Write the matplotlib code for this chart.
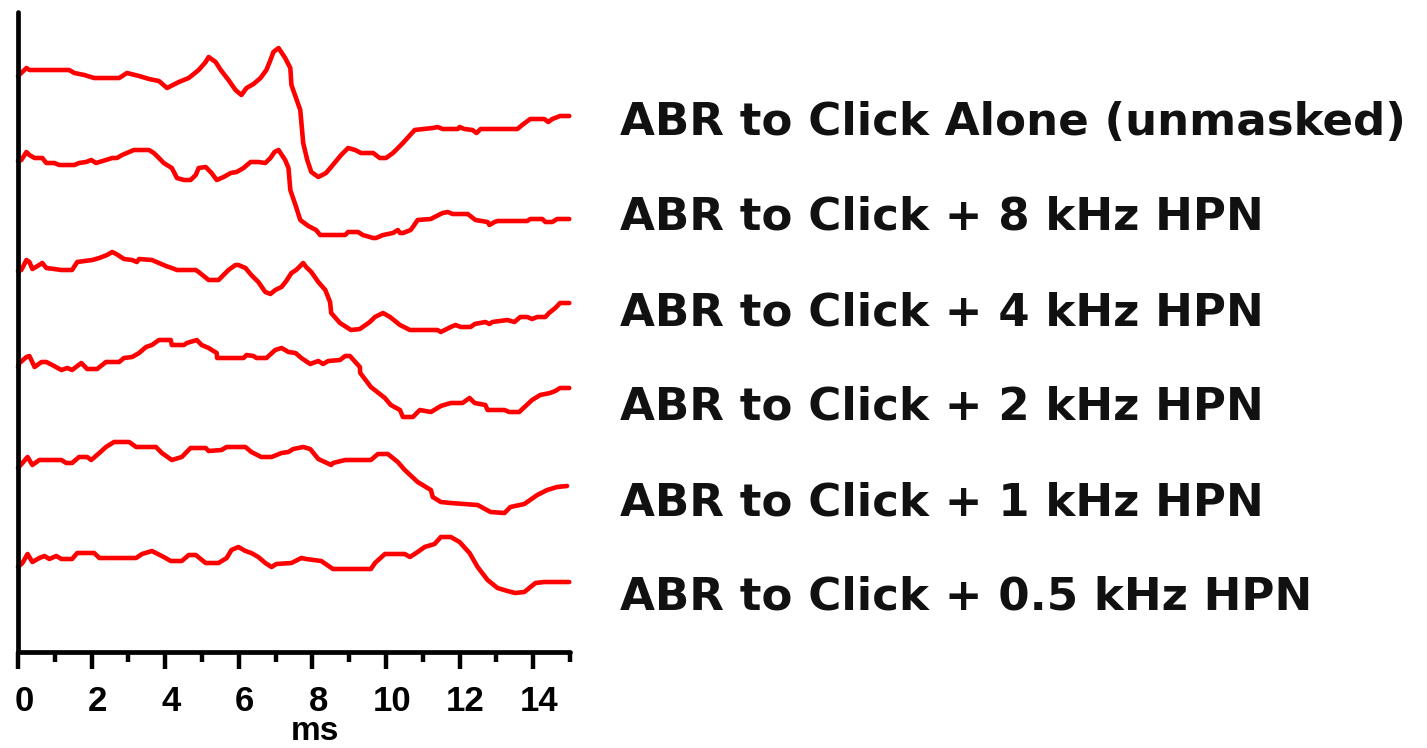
import matplotlib
matplotlib.use("Agg")
import matplotlib.pyplot as plt
import matplotlib.transforms as mtransforms

# ---------------- data (time in ms, amplitude in arbitrary units) ----------------
labels = [
    "ABR to Click Alone (unmasked)",
    "ABR to Click + 8 kHz HPN",
    "ABR to Click + 4 kHz HPN",
    "ABR to Click + 2 kHz HPN",
    "ABR to Click + 1 kHz HPN",
    "ABR to Click + 0.5 kHz HPN",
]
offsets = [0.0, -8.5, -19.5, -29.1, -39.2, -49.1]

t_alone = [0, 0.23, 0.31, 1.39, 1.53, 1.80, 2.07, 2.75, 2.96, 3.29, 3.56, 3.83, 4.05, 4.37, 4.64,
           4.91, 5.10, 5.18, 5.37, 5.51, 5.72, 5.91, 6.07, 6.21, 6.40, 6.59, 6.75, 6.86, 6.94, 7.08,
           7.26, 7.40, 7.43, 7.67, 7.75, 7.86, 7.97, 8.16, 8.37, 8.51, 8.78, 8.97, 9.16, 9.32, 9.65,
           9.83, 10.00, 10.19, 10.46, 10.78, 11.27, 11.40, 11.54, 11.95, 12.00, 12.13, 12.35, 12.46,
           12.57, 13.57, 13.70, 13.92, 14.30, 14.41, 14.52, 14.73, 14.98]
a_alone = [0, 0.8, 0.6, 0.6, 0.3, 0.1, -0.2, -0.2, 0.3, 0.0, -0.3, -0.5, -1.2, -0.6, -0.2,
           0.6, 1.4, 1.9, 1.4, 0.6, -0.4, -1.4, -1.9, -1.2, -0.8, -0.2, 0.6, 1.6, 2.4, 2.8,
           1.8, 0.8, -0.9, -3.4, -6.7, -8.4, -9.6, -10.1, -9.7, -9.1, -7.9, -7.2, -7.4, -7.7, -7.7,
           -8.2, -8.2, -7.7, -6.7, -5.4, -5.2, -5.1, -5.3, -5.3, -5.1, -5.3, -5.4, -5.7,
           -5.3, -5.3, -4.9, -4.3, -4.3, -4.6, -4.3, -4.0, -4.0]

t_8k = [0, 0.09, 0.23, 0.31, 0.45, 0.66, 0.77, 0.99, 1.12, 1.53, 1.66, 1.85, 1.99, 2.12, 2.39,
        2.56, 2.69, 2.83, 3.02, 3.15, 3.56, 3.69, 3.83, 3.96, 4.18, 4.32, 4.51, 4.69, 4.83, 4.91,
        5.10, 5.26, 5.40, 5.59, 5.78, 5.94, 6.13, 6.32, 6.53, 6.72, 6.86, 6.97, 7.08, 7.26, 7.35,
        7.40, 7.54, 7.67, 7.89, 8.10, 8.21, 8.89, 8.97, 9.24, 9.37, 9.65, 9.73, 9.92, 10.19, 10.32,
        10.38, 10.46, 10.67, 10.73, 10.86, 11.22, 11.32, 11.54, 11.68, 11.81, 12.22, 12.43, 12.76,
        12.81, 12.95, 13.03, 13.84, 13.92, 14.25, 14.33, 14.52, 14.65, 14.98]
a_8k = [0, 0.1, 0.9, 0.6, 0.3, 0.3, -0.2, -0.2, -0.4, -0.4, -0.2, -0.1, 0.1, -0.2, 0.1,
        0.3, 0.3, 0.6, 0.9, 1.1, 1.1, 0.8, 0.3, -0.2, -0.7, -1.7, -1.9, -1.9, -1.4, -0.7,
        -0.6, -1.2, -1.9, -1.6, -1.2, -1.1, -0.7, -0.1, -0.1, -0.2, 0.3, 0.9, 1.1, 0.1, -0.7,
        -2.9, -4.4, -5.9, -6.5, -6.9, -7.4, -7.4, -7.1, -7.1, -7.4, -7.7, -7.7, -7.4, -7.2, -6.9,
        -7.2, -7.2, -6.9, -6.6, -5.9, -5.8, -5.6, -5.2, -5.1, -5.3, -5.3, -5.9, -6.1,
        -6.4, -6.1, -6.0, -6.0, -5.8, -5.8, -6.1, -6.1, -5.8, -5.8]

t_4k = [0, 0.09, 0.23, 0.31, 0.39, 0.53, 0.66, 0.77, 0.99, 1.18, 1.47, 1.61, 2.02, 2.21, 2.42,
        2.56, 2.67, 2.88, 3.10, 3.23, 3.29, 3.64, 3.83, 4.02, 4.18, 4.32, 4.83, 4.91, 5.18, 5.45,
        5.72, 5.91, 5.99, 6.18, 6.34, 6.53, 6.72, 6.86, 6.99, 7.16, 7.29, 7.43, 7.56, 7.75, 7.83,
        7.97, 8.16, 8.35, 8.48, 8.51, 8.75, 8.92, 9.05, 9.29, 9.56, 9.70, 9.92, 10.11, 10.38, 10.65,
        11.40, 11.49, 11.76, 11.89, 12.03, 12.30, 12.41, 12.70, 12.81, 12.89, 13.30, 13.49, 13.65,
        13.84, 13.97, 14.11, 14.33, 14.43, 14.60, 14.73, 14.98]
a_4k = [0, 0.1, 1.1, 0.9, 0.2, 0.5, 0.8, 0.3, 0.2, 0.1, 0.1, 0.9, 1.1, 1.3, 1.6,
        1.9, 1.7, 1.2, 1.1, 0.9, 1.2, 1.1, 0.8, 0.5, 0.3, 0.1, 0.1, -0.1, -0.9, -0.9,
        0.1, 0.6, 0.6, 0.3, -0.4, -1.1, -2.1, -2.3, -1.9, -1.6, -1.0, -0.2, 0.1, 0.8, 0.4,
        -0.1, -1.1, -1.9, -3.1, -4.2, -5.2, -5.6, -5.9, -5.8, -5.1, -4.6, -4.2, -4.6, -5.4, -5.9,
        -5.9, -6.1, -5.6, -5.4, -5.6, -5.6, -5.3, -5.1, -5.3, -5.1, -4.9, -5.1, -4.6,
        -4.6, -4.8, -4.6, -4.6, -4.2, -3.7, -3.2, -3.2]

t_2k = [0, 0.04, 0.23, 0.31, 0.45, 0.64, 0.77, 0.93, 1.18, 1.34, 1.47, 1.72, 1.88, 2.15, 2.39,
        2.75, 2.88, 3.10, 3.29, 3.48, 3.64, 3.83, 4.15, 4.18, 4.51, 4.59, 4.86, 4.99, 5.18, 5.40,
        5.41, 6.13, 6.21, 6.40, 6.48, 6.75, 6.99, 7.16, 7.35, 7.54, 7.70, 7.94, 8.16, 8.29, 8.43,
        8.75, 8.89, 9.02, 9.29, 9.30, 9.59, 9.97, 10.13, 10.38, 10.46, 10.73, 10.92, 11.22, 11.49,
        11.76, 12.08, 12.27, 12.41, 12.70, 12.76, 13.22, 13.35, 13.62, 13.97, 14.19, 14.46, 14.60,
        14.73, 14.98]
a_2k = [0, 0.4, 1.0, 1.1, 0.0, 0.5, 0.5, 0.2, -0.3, -0.1, -0.3, 0.4, -0.2, -0.2, 0.5,
        0.5, 0.9, 1.0, 1.4, 2.0, 2.2, 2.7, 2.7, 2.2, 2.2, 2.4, 2.7, 2.2, 1.9, 1.4,
        0.9, 0.9, 1.2, 1.1, 0.9, 0.9, 1.7, 1.9, 1.5, 1.4, 0.9, 0.3, 0.6, 0.3, 0.6,
        0.7, 1.1, 1.1, 0.0, -0.6, -2.0, -3.1, -3.8, -4.3, -5.0, -5.0, -4.3, -4.5, -3.9,
        -3.6, -3.6, -3.1, -3.6, -3.8, -4.3, -4.3, -4.5, -4.5, -3.3, -2.8, -2.6, -2.4,
        -2.1, -2.1]

t_1k = [0, 0.12, 0.26, 0.39, 0.58, 1.18, 1.31, 1.47, 1.66, 1.88, 1.99, 2.21, 2.39, 2.61, 3.02,
        3.21, 3.75, 3.91, 4.18, 4.45, 4.69, 5.10, 5.18, 5.53, 5.67, 6.18, 6.34, 6.61, 6.89, 7.16,
        7.35, 7.48, 7.75, 7.94, 8.16, 8.51, 8.56, 8.89, 9.59, 9.78, 10.05, 10.32, 10.51, 10.86,
        11.22, 11.27, 11.49, 11.76, 12.49, 12.84, 13.22, 13.38, 13.76, 14.11, 14.38, 14.65, 14.92]
a_1k = [0, 0.5, 1.1, 0.3, 0.8, 0.8, 0.5, 0.5, 1.1, 1.1, 0.8, 1.5, 2.1, 2.6, 2.6,
        2.1, 2.1, 1.5, 0.8, 1.1, 2.0, 2.0, 1.7, 1.8, 2.1, 2.1, 1.6, 1.1, 1.1, 1.5,
        1.6, 1.9, 2.1, 1.9, 0.9, 0.3, 0.5, 0.8, 0.8, 1.4, 1.4, 0.6, -0.2, -1.4,
        -2.2, -2.9, -3.4, -3.5, -3.7, -4.4, -4.5, -3.9, -3.6, -2.7, -2.2, -1.9, -1.8]

t_05k = [0, 0.12, 0.26, 0.39, 0.58, 0.72, 0.85, 1.04, 1.18, 1.47, 1.61, 2.07, 2.21, 3.21, 3.37,
         3.64, 3.96, 4.15, 4.45, 4.64, 4.83, 5.10, 5.45, 5.67, 5.80, 5.99, 6.18, 6.34, 6.53, 6.72,
         6.89, 7.02, 7.43, 7.70, 7.83, 8.24, 8.56, 9.59, 9.70, 9.97, 10.51, 10.65, 10.86, 11.05,
         11.32, 11.49, 11.76, 12.00, 12.27, 12.49, 12.76, 13.03, 13.30, 13.51, 13.76, 14.06, 14.30,
         14.98]
a_05k = [0, 0.4, 1.3, 0.5, 0.9, 1.1, 0.8, 1.1, 0.8, 0.8, 1.4, 1.4, 0.9, 0.9, 1.3,
         1.6, 1.0, 0.6, 0.6, 1.2, 1.2, 0.4, 0.4, 0.9, 1.7, 2.0, 1.6, 1.4, 1.0, 0.4,
         0.0, 0.3, 0.4, 0.9, 0.8, 0.6, -0.2, -0.2, 0.4, 1.3, 1.3, 1.0, 1.5, 2.0,
         2.3, 3.0, 3.0, 2.5, 1.4, 0.0, -1.3, -2.1, -2.4, -2.6, -2.5, -1.6, -1.5,
         -1.5]

times = [t_alone, t_8k, t_4k, t_2k, t_1k, t_05k]
amps = [a_alone, a_8k, a_4k, a_2k, a_1k, a_05k]

xticks_major = [0, 2, 4, 6, 8, 10, 12, 14]
xticks_minor = [1, 3, 5, 7, 9, 11, 13, 15]
xlabel = "ms"

# ---------------- figure ----------------
W, H, DPI = 1427, 748, 100
fig = plt.figure(figsize=(W / DPI, H / DPI), dpi=DPI)
ax = fig.add_axes([18 / W, 1 - 652 / H, (570 - 18) / W, (652 - 12) / H])

for t, a, off in zip(times, amps, offsets):
    ax.plot(t, [v + off for v in a], color="#ff0000", lw=3.3,
            solid_joinstyle="round", solid_capstyle="round", clip_on=False)

ax.set_xlim(0, 15)
ax.set_ylim(-57.6, 6.4)

for s in ["top", "right"]:
    ax.spines[s].set_visible(False)
for s in ["left", "bottom"]:
    ax.spines[s].set_linewidth(3.4)
    ax.spines[s].set_capstyle("round")

ax.set_yticks([])
ax.set_xticks(xticks_major)
ax.set_xticks(xticks_minor, minor=True)
ax.tick_params(axis="x", which="major", length=12, width=3.2, pad=12,
               labelsize=25)
ax.tick_params(axis="x", which="minor", length=7, width=3.2)
for lab in ax.get_xticklabels():
    lab.set_fontweight("bold")
    lab.set_fontfamily("Liberation Sans")
    lab.set_transform(lab.get_transform() +
                      mtransforms.ScaledTranslation(6 / DPI, 0, fig.dpi_scale_trans))

fig.text(315 / W, 1 - 740 / H, xlabel, ha="center", va="baseline",
         fontsize=24, fontweight="bold", family="Liberation Sans")

baselines = [135, 230, 325, 420, 515, 610]
for lab, b in zip(labels, baselines):
    fig.text(620 / W, 1 - b / H, lab, ha="left", va="baseline",
             fontsize=32.5, fontweight="bold", family="DejaVu Sans", color="#111111")

fig.savefig("out.png", dpi=DPI)
